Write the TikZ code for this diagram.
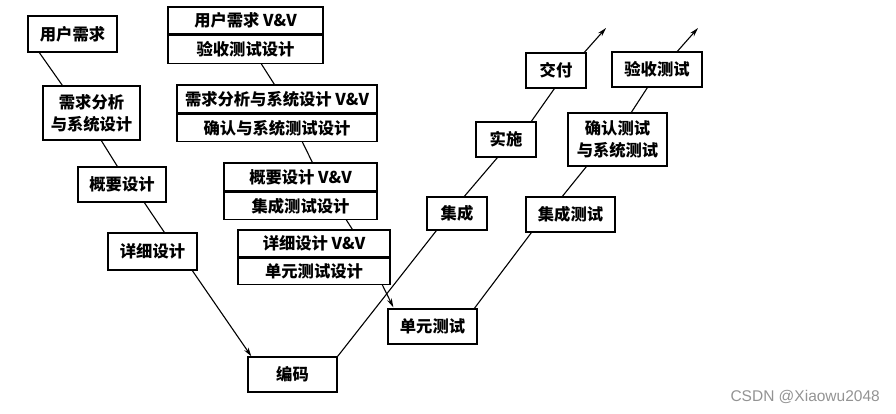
\documentclass[tikz,border=0pt]{standalone}
\usepackage{fontspec}
\setmainfont{Noto Sans CJK SC}
\newfontfamily\wmfont{Liberation Sans}
\usetikzlibrary{calc,arrows.meta}
\begin{document}
\begin{tikzpicture}[x=1pt,y=-1pt,
  box/.style={draw,line width=1.3pt,inner sep=0pt,align=center,font=\fontsize{16.3}{22}\selectfont\bfseries},
  link/.style={line width=1.1pt},
  arr/.style={line width=1.1pt,-{Stealth[length=9pt,width=5pt]}}]
\useasboundingbox (0,0) rectangle (896,413);
% left branch
\node[box,minimum width=89,minimum height=36] (u1) at (72.5,34) {用户需求};
\node[box,minimum width=97,minimum height=54] (u2) at (91.5,113) {需求分析\\与系统设计};
\node[box,minimum width=88,minimum height=35] (u3) at (122,184.5) {概要设计};
\node[box,minimum width=89,minimum height=37] (u4) at (152.5,251.5) {详细设计};
\node[box,minimum width=89,minimum height=35] (cod) at (292.5,374.5) {编码};
% right branch (development)
\node[box,minimum width=60,minimum height=33] (jc) at (457,213.5) {集成};
\node[box,minimum width=60,minimum height=35] (ss) at (506,139.5) {实施};
\node[box,minimum width=60,minimum height=35] (jf) at (556,70.5) {交付};
% right branch (testing)
\node[box,minimum width=89,minimum height=35] (ut) at (432.5,326.5) {单元测试};
\node[box,minimum width=89,minimum height=35] (it) at (570.5,214.5) {集成测试};
\node[box,minimum width=99,minimum height=53] (qr) at (617.5,139.5) {确认测试\\与系统测试};
\node[box,minimum width=90,minimum height=35] (ys) at (657,69.5) {验收测试};
% V&V boxes
\node[box,minimum width=155,minimum height=27] (v1a) at (245.5,20.5) {用户需求 V\&V};
\node[box,minimum width=155,minimum height=28,anchor=north] (v1b) at (v1a.south) {验收测试设计};
\node[box,minimum width=200,minimum height=28] (v2a) at (277,99) {需求分析与系统设计 V\&V};
\node[box,minimum width=200,minimum height=27,anchor=north] (v2b) at (v2a.south) {确认与系统测试设计};
\node[box,minimum width=153,minimum height=28] (v3a) at (300.5,177) {概要设计 V\&V};
\node[box,minimum width=153,minimum height=27,anchor=north] (v3b) at (v3a.south) {集成测试设计};
\node[box,minimum width=152,minimum height=27] (v4a) at (314,243.5) {详细设计 V\&V};
\node[box,minimum width=152,minimum height=26,anchor=north] (v4b) at (v4a.south) {单元测试设计};
% free arrow ends
\coordinate (e1) at (606,28);
\coordinate (e2) at (698,28);
% left V
\draw[link] ($(u1.south west)+(12,0)$) -- ($(u2.north west)+(20,0)$);
\draw[link] ($(u2.south west)+(59,0)$) -- ($(u3.north west)+(40,0)$);
\draw[link] ($(u3.south west)+(67,0)$) -- ($(u4.north west)+(57,0)$);
\draw[arr] ($(u4.south west)+(85,0)$) -- ($(cod.north west)+(4,0)$);
% right development
\draw[link] (cod.north east) -- ($(jc.south west)+(10,0)$);
\draw[link] ($(jc.north west)+(38,0)$) -- ($(ss.south west)+(22,0)$);
\draw[link] ($(ss.north west)+(56,0)$) -- ($(jf.south west)+(29,0)$);
\draw[arr] ($(jf.north west)+(59,0)$) -- (e1);
% right testing
\draw[link] ($(ut.north west)+(87,0)$) -- ($(it.south west)+(6,0)$);
\draw[link] ($(it.north west)+(37,0)$) -- ($(qr.south west)+(19,0)$);
\draw[link] ($(qr.north west)+(64,0)$) -- ($(ys.south west)+(36,0)$);
\draw[arr] ($(ys.north west)+(66,0)$) -- (e2);
% V&V chain
\draw[link] ($(v1b.south west)+(94,0)$) -- ($(v2a.north west)+(98,0)$);
\draw[link] ($(v2b.south west)+(126,0)$) -- ($(v3a.north west)+(89,0)$);
\draw[link] ($(v3b.south west)+(123,0)$) -- ($(v4a.north west)+(115,0)$);
\draw[arr] ($(v4b.south west)+(145,0)$) -- ($(ut.north west)+(6,-1)$);
% watermark
\node[anchor=east,text=gray!85,font=\wmfont\fontsize{15.5}{18}\selectfont,inner sep=0pt] (wm) at (880,397) {CSDN @Xiaowu2048};
\end{tikzpicture}
\end{document}
